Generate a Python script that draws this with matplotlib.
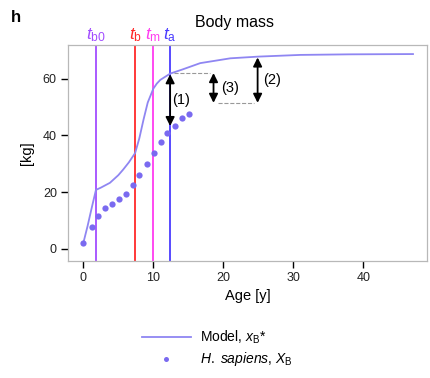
import matplotlib.pyplot as plt
from matplotlib.transforms import blended_transform_factory

plt.rcParams['font.family'] = ['Liberation Sans', 'DejaVu Sans']
plt.rcParams['mathtext.fontset'] = 'custom'
plt.rcParams['mathtext.rm'] = 'Liberation Sans'
plt.rcParams['mathtext.it'] = 'Liberation Sans:italic'

# model curve x_B*
model_age = [0, 0.6, 1.2, 1.8, 2.5, 3.8, 5.0, 5.7, 6.5, 7.4, 8.0, 8.6, 9.2,
             10.0, 10.5, 11.0, 12.4, 14.2, 16.7, 21, 25, 31, 38, 47.1]
model_mass = [2.1, 8.0, 14.5, 20.8, 21.6, 23.3, 26.0, 28.0, 30.5, 33.8, 39.0,
              45.6, 51.6, 56.5, 58.3, 59.6, 61.8, 63.3, 65.5, 67.2, 67.8,
              68.4, 68.6, 68.7]

# H. sapiens data X_B
hs_age = [0, 1.2, 2.1, 3.1, 4.1, 5.1, 6.1, 7.1, 8.0, 9.1, 10.1, 11.1, 11.9,
          13.1, 14.1, 15.1]
hs_mass = [2.1, 7.8, 11.7, 14.4, 15.9, 17.5, 19.5, 22.5, 25.9, 29.8, 33.7,
           37.6, 40.9, 43.5, 46.0, 47.4]

# milestone ages
t_names = [r'$t_{\mathrm{b0}}$', r'$t_{\mathrm{b}}$', r'$t_{\mathrm{m}}$', r'$t_{\mathrm{a}}$']
t_ages = [1.8, 7.4, 9.9, 12.4]
t_colors = ['#a24dff', '#ff2a2a', '#ff3cf0', '#4a3cff']

fig = plt.figure(figsize=(4.3, 3.78), dpi=100)
ax = fig.add_axes([0.158, 0.31, 0.835, 0.571])

for name, t, c in zip(t_names, t_ages, t_colors):
    ax.axvline(t, color=c, lw=1.3, zorder=1)
    tr = blended_transform_factory(ax.transData, ax.transAxes)
    ax.text(t, 1.005, name, color=c, fontsize=12.5, ha='center', va='bottom',
            transform=tr)

ax.plot(model_age, model_mass, color='#8f86f2', lw=1.3, zorder=2,
        label=r'Model, $x_{\mathrm{B}}$*')
ax.plot(hs_age, hs_mass, 'o', color='#7a6af0', ms=4.5, mec='none', zorder=3,
        label=r'$\it{H.\ sapiens}$, $X_{\mathrm{B}}$')

# arrows (1), (2), (3)
aprops = dict(arrowstyle='<|-|>', color='black', lw=1.3, mutation_scale=13,
              shrinkA=0, shrinkB=0)
ax.annotate('', xy=(12.4, 43.3), xytext=(12.4, 61.6), arrowprops=aprops)
ax.annotate('', xy=(18.6, 51.5), xytext=(18.6, 62.0), arrowprops=aprops)
ax.annotate('', xy=(24.9, 51.5), xytext=(24.9, 67.5), arrowprops=aprops)
ax.plot([13.0, 18.1], [62.0, 62.0], ls='--', color='#999999', lw=0.8)
ax.plot([19.2, 24.4], [51.5, 51.5], ls='--', color='#999999', lw=0.8)
ax.text(14.0, 52.6, '(1)', fontsize=10.5, ha='center', va='center')
ax.text(21.0, 56.8, '(3)', fontsize=10.5, ha='center', va='center')
ax.text(26.9, 59.6, '(2)', fontsize=10.5, ha='center', va='center')

ax.set_xlim(-2.2, 49.1)
ax.set_ylim(-4.2, 71.9)
ax.set_xticks([0, 10, 20, 30, 40])
ax.set_yticks([0, 20, 40, 60])
for s in ax.spines.values():
    s.set_color('#b8b8b8')
    s.set_linewidth(0.9)
ax.tick_params(direction='out', length=5, width=1, color='black',
               labelsize=9, labelcolor='#222222', pad=3)
ax.set_xlabel('Age [y]', fontsize=10.5, labelpad=4)
ax.set_ylabel('[kg]', fontsize=10.5, labelpad=6)

fig.text(0.545, 0.94, 'Body mass', fontsize=11.5, ha='center', va='center')
fig.text(0.025, 0.955, 'h', fontsize=12, fontweight='bold', ha='left',
         va='center')

fig.legend(loc='upper left', bbox_to_anchor=(0.33, 0.13), frameon=False,
           fontsize=10, handlelength=3.5, handletextpad=0.7, labelspacing=0.3,
           borderaxespad=0, borderpad=0, markerscale=0.8)

fig.savefig('out.png', dpi=100)
